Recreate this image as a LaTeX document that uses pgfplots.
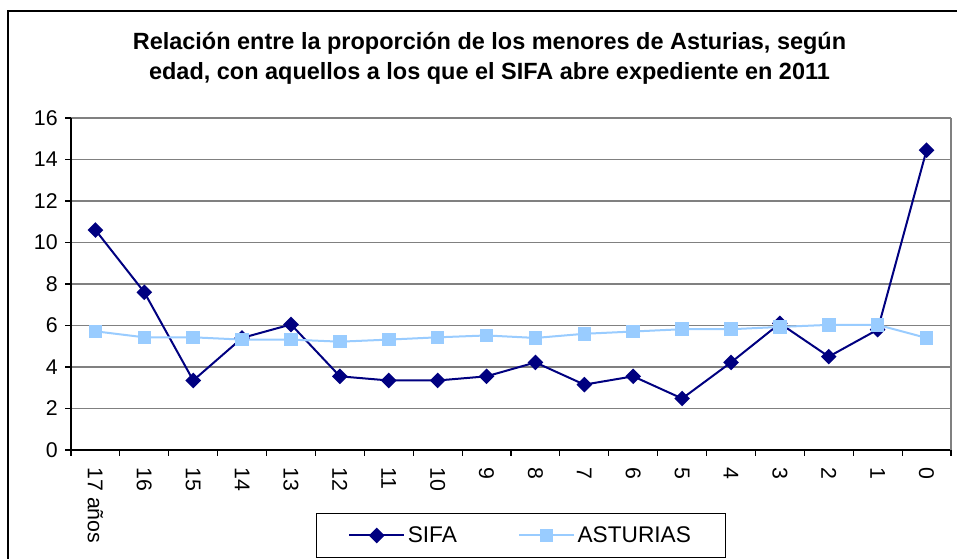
\documentclass[border=0pt]{standalone}
\usepackage{pgfplots}
\pgfplotsset{compat=1.18}
\usepackage{fontspec}
\setmainfont{Liberation Sans}
\definecolor{sifa}{RGB}{0,0,128}
\definecolor{ast}{RGB}{153,204,255}
\definecolor{gridg}{RGB}{128,128,128}
\begin{document}
\begin{tikzpicture}[x=0.75pt,y=0.75pt]
\useasboundingbox (0,0) rectangle (957,559);
\clip (0,0) rectangle (957,559);
\fill[white] (0,0) rectangle (957,559);
\draw[line width=1.5pt] (7.5,548) rectangle (1000,-50);
\node[anchor=base,font=\bfseries\fontsize{17.6}{20}\selectfont] at (489.5,509) {Relación entre la proporción de los menores de Asturias, según};
\node[anchor=base,font=\bfseries\fontsize{17.6}{20}\selectfont] at (489.5,479) {edad, con aquellos a los que el SIFA abre expediente en 2011};
\begin{axis}[
  at={(53.25pt,81.75pt)}, anchor=south west,
  scale only axis, width=660pt, height=249pt,
  xmin=-0.5, xmax=17.5, ymin=0, ymax=16,
  axis lines*=left,
  axis line style={-, black, line width=1pt},
  ytick={0,2,...,16},
  xtick={0,...,17},
  xticklabels={17 años,16,15,14,13,12,11,10,9,8,7,6,5,4,3,2,1,0},
  minor xtick={-0.5,0.5,...,17.5},
  major x tick style={draw=none},
  tick align=outside,
  major tick length=4.5pt,
  minor tick length=4.5pt,
  tick style={black, line width=0.8pt},
  ymajorgrids,
  major grid style={gridg, line width=1pt},
  /pgf/number format/assume math mode=true,
  ticklabel style={font=\fontsize{16}{18}\selectfont},
  yticklabel style={xshift=-2pt},
  xticklabel style={rotate=-90, anchor=west, xshift=5pt},
  clip=false,
  legend columns=2,
  legend style={at={(0.5114,-0.1889)}, anchor=north, draw=black, line width=0.8pt,
    font=\fontsize{17}{20}\selectfont, inner xsep=24pt, inner ysep=8pt,
    /tikz/every even column/.append style={column sep=44pt}},
  legend image code/.code={\draw[mark repeat=2,mark phase=2,#1] plot coordinates {(0pt,0pt) (20.5pt,0pt) (41pt,0pt)};},
]
\draw[gridg, line width=1pt] (rel axis cs:1,0) -- (rel axis cs:1,1);
\addplot[sifa, line width=1.5pt, mark=square*, mark size=3.4pt, mark options={rotate=45, solid, fill=sifa}] coordinates {
(0,10.6) (1,7.6) (2,3.35) (3,5.4) (4,6.05) (5,3.55) (6,3.35) (7,3.35) (8,3.55) (9,4.22) (10,3.15) (11,3.55) (12,2.48) (13,4.22) (14,6.1) (15,4.5) (16,5.8) (17,14.45)};
\addlegendentry{SIFA}
\addplot[ast, line width=1.5pt, mark=square*, mark size=4.3pt, mark options={solid, fill=ast}] coordinates {
(0,5.72) (1,5.43) (2,5.43) (3,5.32) (4,5.32) (5,5.22) (6,5.32) (7,5.43) (8,5.52) (9,5.4) (10,5.6) (11,5.71) (12,5.82) (13,5.82) (14,5.93) (15,6.03) (16,6.03) (17,5.4)};
\addlegendentry{ASTURIAS}
\end{axis}
\end{tikzpicture}
\end{document}
